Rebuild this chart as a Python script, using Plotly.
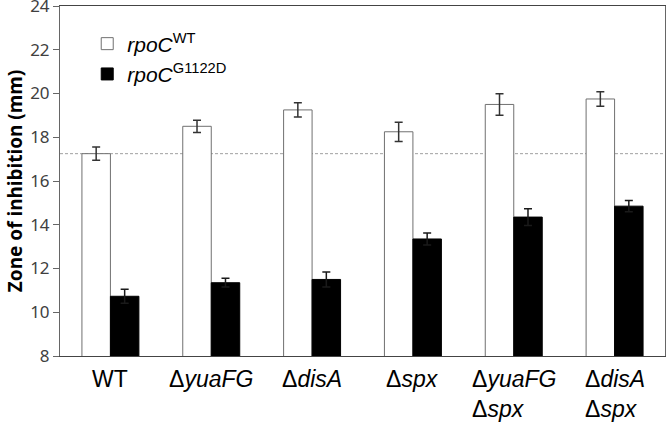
import plotly.graph_objects as go

categories = ["WT", "Δ<i>yuaFG</i>", "Δ<i>disA</i>", "Δ<i>spx</i>",
              "Δ<i>yuaFG</i><br>Δ<i>spx</i>", "Δ<i>disA</i><br>Δ<i>spx</i>"]
wt_values = [17.25, 18.5, 19.25, 18.25, 19.5, 19.75]
wt_errors = [0.3, 0.28, 0.33, 0.44, 0.49, 0.33]
mut_values = [10.73, 11.35, 11.5, 13.35, 14.35, 14.85]
mut_errors = [0.32, 0.2, 0.34, 0.27, 0.38, 0.26]
baseline = 17.25
y_ticks = [8, 10, 12, 14, 16, 18, 20, 22, 24]
series_names = ["<i>rpoC</i><sup>WT</sup>", "<i>rpoC</i><sup>G1122D</sup>"]

x_idx = list(range(len(categories)))

fig = go.Figure()
fig.add_trace(go.Bar(
    x=x_idx, y=wt_values, name=series_names[0],
    marker=dict(color="white", line=dict(color="#707070", width=1)),
    error_y=dict(type="data", array=wt_errors, color="#333333", thickness=1.5, width=4),
))
fig.add_trace(go.Bar(
    x=x_idx, y=mut_values, name=series_names[1],
    marker=dict(color="black", line=dict(color="black", width=1)),
    error_y=dict(type="data", array=mut_errors, color="#1a1a1a", thickness=1.5, width=4),
))

fig.add_shape(type="line", xref="paper", x0=0, x1=1, yref="y", y0=baseline, y1=baseline,
              line=dict(color="#a0a0a0", width=1, dash="3px,2px"), layer="below")

for i, c in enumerate(categories):
    fig.add_annotation(x=i, xref="x", y=-0.022, yref="paper", yanchor="top",
                       text=c, showarrow=False, align="left",
                       font=dict(family="Liberation Sans, Arial", size=23, color="black"))

fig.update_layout(
    width=666, height=425,
    margin=dict(l=60, r=1, t=6, b=69, autoexpand=False),
    plot_bgcolor="white", paper_bgcolor="white",
    barmode="group", bargap=0.435, bargroupgap=0,
    showlegend=True,
    legend=dict(x=0.045, y=0.95, xanchor="left", yanchor="top",
                bgcolor="rgba(0,0,0,0)",
                font=dict(family="Liberation Sans, Arial", size=21, color="black"),
                tracegroupgap=0),
    xaxis=dict(range=[-0.5, len(categories) - 0.5], showticklabels=False, ticks="",
               showline=True, linecolor="#444444", linewidth=1, mirror=True,
               showgrid=False, zeroline=False, tickvals=x_idx, automargin=False),
    yaxis=dict(range=[8, 24], tickvals=y_ticks, ticklabeloverflow="allow",
               ticks="outside", ticklen=6, tickcolor="#666666", automargin=False,
               showline=True, linecolor="#666666", linewidth=1, mirror=True,
               showgrid=False, zeroline=False,
               tickfont=dict(family="Noto Sans", size=17, color="#404040"),
               title=dict(text="<b>Zone of inhibition (mm)</b>", standoff=2,
                          font=dict(family="Noto Sans", size=19, color="black"))),
)

fig.write_html("out.html", config={"displayModeBar": False},
               post_script="document.body.style.margin='0';")
